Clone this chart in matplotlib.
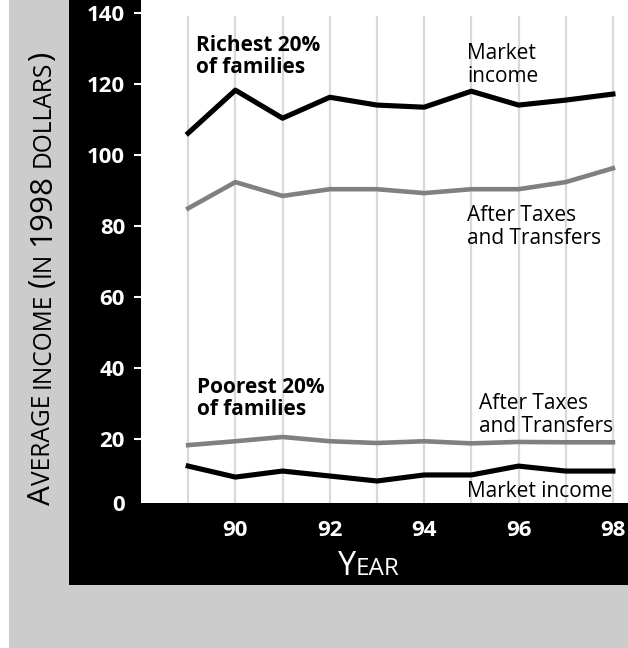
"""Average family income, richest vs poorest 20%, market income vs after taxes and transfers."""
import matplotlib
matplotlib.use("Agg")
import matplotlib.pyplot as plt
from matplotlib.patches import Rectangle
from matplotlib.transforms import IdentityTransform

FONT = ["Open Sans", "DejaVu Sans"]

years = [89, 90, 91, 92, 93, 94, 95, 96, 97, 98]
rich_market = [106.2, 118.3, 110.4, 116.3, 114.1, 113.5, 118.0, 114.1, 115.5, 117.2]
rich_after = [85.0, 92.4, 88.5, 90.4, 90.4, 89.3, 90.4, 90.4, 92.4, 96.3]
poor_after = [18.3, 19.4, 20.6, 19.4, 18.9, 19.4, 18.8, 19.2, 19.1, 19.1]
poor_market = [12.4, 9.3, 11.0, 9.6, 8.2, 9.9, 9.9, 12.4, 11.0, 11.0]
y_ticks = [20, 40, 60, 80, 100, 120, 140]
x_ticks = [90, 92, 94, 96, 98]

W, H = 628, 648


def small_caps(fig, x, y, text, big, small, color, rotation=0, length=None):
    """Draw text in small caps from pixel (x, y) along the baseline."""
    renderer = fig.canvas.get_renderer()
    runs = []
    for ch in text:
        if ch == " ":
            runs.append([" ", small])
            continue
        size = small if ch.islower() else big
        if runs and runs[-1][1] == size and runs[-1][0] != " ":
            runs[-1][0] += ch.upper()
        else:
            runs.append([ch.upper(), size])

    def width(s, size):
        t = fig.text(0, 0, s, fontsize=size, family=FONT)
        w = t.get_window_extent(renderer).width
        t.remove()
        return w

    def advance(s, size):
        if s == " ":
            return width("a a", size) - width("aa", size)
        return width(s, size)

    scale = 1.0
    if length is not None:
        total = sum(advance(s, sz) for s, sz in runs)
        scale = length / total
    pos = 0
    for s, size in runs:
        size = size * scale
        if s != " ":
            xx, yy = (x, y + pos) if rotation else (x + pos, y)
            fig.text(xx, yy, s, fontsize=size, family=FONT, color=color,
                     rotation=rotation, rotation_mode="anchor",
                     ha="left", va="baseline", transform=IdentityTransform())
        pos += advance(s, size)


fig = plt.figure(figsize=(W / 100, H / 100), dpi=100, facecolor="white")

# background panels
fig.patches.append(Rectangle((9 / W, 0), 1 - 9 / W, 1, transform=fig.transFigure,
                             facecolor="#cccccc", edgecolor="none", zorder=-2))
fig.patches.append(Rectangle((69 / W, (H - 585) / H), 1 - 69 / W, 585 / H,
                             transform=fig.transFigure, facecolor="black",
                             edgecolor="none", zorder=-1))

ax = fig.add_axes([141 / W, (H - 503) / H, (W - 141) / W, 503 / H])
ax.set_facecolor("white")
ax.set_xlim(88.0, 98.32)
ax.set_ylim(2.0, 143.7)
for s in ax.spines.values():
    s.set_visible(False)

ax.vlines(years, 0, 139.2, color="#d9d9d9", linewidth=1.6, zorder=1)

ax.plot(years, rich_market, color="black", linewidth=3.7, zorder=3)
ax.plot(years, rich_after, color="#808080", linewidth=3.3, zorder=3)
ax.plot(years, poor_after, color="#808080", linewidth=3.3, zorder=3)
ax.plot(years, poor_market, color="black", linewidth=3.7, zorder=3)

ax.set_yticks(y_ticks)
ax.set_yticklabels([str(v) for v in y_ticks])
ax.set_xticks(x_ticks)
ax.set_xticklabels([str(v) for v in x_ticks])
ax.tick_params(axis="y", colors="white", length=5, width=1.5, pad=6.5, labelsize=16)
ax.tick_params(axis="x", colors="white", length=0, pad=12, labelsize=16)
for lab in ax.get_yticklabels() + ax.get_xticklabels():
    lab.set_fontweight("bold")
    lab.set_family(FONT)
ax.annotate("0", xy=(0, 1.4), xycoords=("axes fraction", "data"), xytext=(-11.5, 0),
            textcoords="offset points", ha="right", va="center", color="white",
            fontsize=16, fontweight="bold", family=FONT, annotation_clip=False)

# annotations
ax.text(89.17, 133.8, "Richest 20%\nof families", fontsize=15, fontweight="bold",
        family=FONT, va="top", ha="left", linespacing=1.05)
ax.text(94.91, 131.5, "Market\nincome", fontsize=15, family=FONT, va="top",
        ha="left", linespacing=1.1)
ax.text(94.91, 85.9, "After Taxes\nand Transfers", fontsize=15, family=FONT,
        va="top", ha="left", linespacing=1.1)
ax.text(89.19, 37.5, "Poorest 20%\nof families", fontsize=15, fontweight="bold",
        family=FONT, va="top", ha="left", linespacing=1.05)
ax.text(95.17, 33.0, "After Taxes\nand Transfers", fontsize=15, family=FONT,
        va="top", ha="left", linespacing=1.1)
ax.text(98.0, 8.2, "Market income", fontsize=15, family=FONT, va="top", ha="right")

# axis titles in small caps
small_caps(fig, 50, H - 505, "Average income (in 1998 dollars)", 23, 18, "black",
           rotation=90, length=455)
small_caps(fig, 338, H - 575, "Year", 20, 15, "white", length=62)

fig.savefig("out.png", dpi=100, facecolor=fig.get_facecolor())
